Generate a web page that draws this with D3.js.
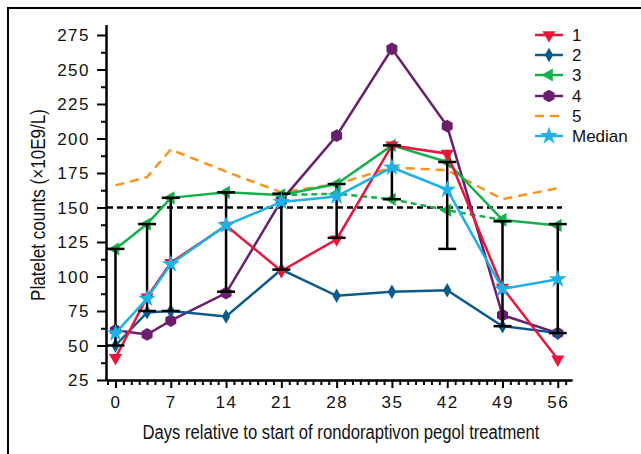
<!DOCTYPE html>
<html>
<head>
<meta charset="utf-8">
<script src="https://cdn.jsdelivr.net/npm/d3@7"></script>
<style>
  body { margin: 0; background: #fff; }
  svg { display: block; }
  .axis path, .axis line { stroke: #000; stroke-width: 2; }
  .axis text { font-family: "Liberation Sans", Arial, sans-serif; font-size: 17px; fill: #111; letter-spacing: 1.5px; }
  .title { font-family: "Liberation Sans Narrow", "Liberation Sans", sans-serif; font-size: 20px; fill: #111; }
  .legend text { font-family: "Liberation Sans", Arial, sans-serif; font-size: 17px; fill: #111; }
</style>
</head>
<body>
<div id="vis"></div>
<script>
// chart values
var days = [0, 4, 7, 14, 21, 28, 35, 42, 49, 56];
var series1 = [41, 85, 110, 137, 104, 127, 195, 189, 92, 40];
var series2 = [50, 74, 75, 71, 105, 86, 89, 90, 64, 59];
var series3 = [120, 138, 157, 161, 159, 167, 195, 183, 141, 137];
var series4 = [61, 58, 68, 88, 155, 202, 265, 209, 72, 59];
var series5 = [166, 172, 192, 176, 161, 167, 179, 177, 156, 164];
var median = [59, 84, 109, 137, 154, 158, 179, 163, 91, 98];
var series3AltDays = [21, 28, 35, 42, 49];
var series3Alt = [159, 160, 156, 148, 141];
var errLow = [50, 75, 75, 89, 105, 128, 156, 120, 64, 59];
var errHigh = [120, 138, 157, 161, 160, 167, 195, 183, 140, 138];
var refLevel = 150;
var yTicks = [25, 50, 75, 100, 125, 150, 175, 200, 225, 250, 275];
var xTicks = [0, 7, 14, 21, 28, 35, 42, 49, 56];
var legendNames = ['1', '2', '3', '4', '5', 'Median'];

var svg = d3.select('#vis')
    .append('svg')
    .attr('width', 641)
    .attr('height', 454);

// frame (only top and left edges show in the crop)
svg.append('path')
    .attr('d', 'M8,454 L8,8 L641,8')
    .attr('fill', 'none')
    .attr('stroke', '#000')
    .attr('stroke-width', 2);

var xScale = d3.scaleLinear().domain([-1.2, 57.8]).range([106, 572]);
var yScale = d3.scaleLinear().domain([25, 282.6]).range([380, 24.5]);

// axes
var xMinor = d3.range(-1, 58).filter(function(d) { return d % 7 !== 0; });
var yMinor = yTicks.slice(0, -1).map(function(d) { return d + 12.5; });

svg.append('g').attr('class', 'axis')
    .attr('transform', 'translate(0,380)')
    .call(d3.axisBottom(xScale).tickValues(xMinor).tickSize(5).tickSizeOuter(0).tickFormat(''));
var xAxisG = svg.append('g').attr('class', 'axis')
    .attr('transform', 'translate(0,380)')
    .call(d3.axisBottom(xScale).tickValues(xTicks).tickSize(8).tickSizeOuter(0).tickPadding(8));

svg.append('g').attr('class', 'axis')
    .attr('transform', 'translate(106,0)')
    .call(d3.axisLeft(yScale).tickValues(yMinor).tickSize(5).tickSizeOuter(0).tickFormat(''));
svg.append('g').attr('class', 'axis')
    .attr('transform', 'translate(106,0)')
    .call(d3.axisLeft(yScale).tickValues(yTicks).tickSize(9).tickSizeOuter(0).tickPadding(7));

svg.selectAll('.axis text').attr('dy', '0.35em');
xAxisG.selectAll('text').attr('dy', '0.71em');

svg.append('text')
    .attr('class', 'title')
    .attr('x', 341)
    .attr('y', 439)
    .attr('textLength', 397)
    .attr('lengthAdjust', 'spacingAndGlyphs')
    .style('text-anchor', 'middle')
    .text('Days relative to start of rondoraptivon pegol treatment');

svg.append('text')
    .attr('class', 'title')
    .attr('transform', 'translate(45,205)rotate(-90)')
    .attr('textLength', 192)
    .attr('lengthAdjust', 'spacingAndGlyphs')
    .style('text-anchor', 'middle')
    .text('Platelet counts (\u00d710E9/L)');

// reference line at 150
svg.append('line')
    .attr('x1', 107).attr('x2', 562)
    .attr('y1', yScale(refLevel)).attr('y2', yScale(refLevel))
    .attr('stroke', '#000')
    .attr('stroke-width', 2.5)
    .attr('stroke-dasharray', '6,4');

var hexagon = {
    draw: function(ctx, size) {
        var r = Math.sqrt(size / 2.598);
        for (var i = 0; i < 6; i++) {
            var a = Math.PI / 6 + i * Math.PI / 3;
            if (i === 0) ctx.moveTo(r * Math.cos(a), r * Math.sin(a));
            else ctx.lineTo(r * Math.cos(a), r * Math.sin(a));
        }
        ctx.closePath();
    }
};

var styles = [
    { color: '#e8173a', shape: d3.symbolTriangle, rot: 180, size: 75 },
    { color: '#0b5a8c', shape: d3.symbolDiamond, rot: 0, size: 60 },
    { color: '#15b04b', shape: d3.symbolTriangle, rot: -90, size: 75 },
    { color: '#6a1f6d', shape: hexagon, rot: 0, size: 105 },
    { color: '#f7941d', shape: null, rot: 0, size: 0, dash: '9,6' },
    { color: '#1db1e7', shape: d3.symbolStar, rot: 0, size: 100 }
];

var line = d3.line()
    .x(function(d) { return xScale(d[0]); })
    .y(function(d) { return yScale(d[1]); });

var drawSeries = function(xs, vals, st, dash) {
    var pts = xs.map(function(d, i) { return [d, vals[i]]; });
    var g = svg.append('g');
    g.append('path')
        .datum(pts)
        .attr('d', line)
        .attr('fill', 'none')
        .attr('stroke', st.color)
        .attr('stroke-width', 2.5)
        .attr('stroke-dasharray', dash || null);
    if (st.shape) {
        g.selectAll('path.pt').data(pts).enter().append('path')
            .attr('class', 'pt')
            .attr('d', d3.symbol().type(st.shape).size(st.size))
            .attr('fill', st.color)
            .attr('transform', function(d) {
                return 'translate(' + xScale(d[0]) + ',' + yScale(d[1]) + ')rotate(' + st.rot + ')';
            });
    }
};

drawSeries(days, series5, styles[4], styles[4].dash);
drawSeries(series3AltDays, series3Alt, styles[2], '6,4');
drawSeries(days, series4, styles[3]);
drawSeries(days, series2, styles[1]);
drawSeries(days, series3, styles[2]);
drawSeries(days, series1, styles[0]);

// error bars
var eb = svg.append('g').attr('stroke', '#000').attr('stroke-width', 2.5);
days.forEach(function(d, i) {
    var cx = xScale(d);
    eb.append('line').attr('x1', cx).attr('x2', cx)
        .attr('y1', yScale(errLow[i])).attr('y2', yScale(errHigh[i]));
    [errLow[i], errHigh[i]].forEach(function(v) {
        eb.append('line').attr('x1', cx - 9).attr('x2', cx + 9)
            .attr('y1', yScale(v)).attr('y2', yScale(v));
    });
});

drawSeries(days, median, styles[5]);

// legend
var legend = svg.append('g').attr('class', 'legend');
var rowY = [35, 55, 75, 96, 116, 136];
legendNames.forEach(function(name, i) {
    var st = styles[i];
    var row = legend.append('g').attr('transform', 'translate(0,' + rowY[i] + ')');
    row.append('line')
        .attr('x1', 535).attr('x2', 563)
        .attr('stroke', st.color)
        .attr('stroke-width', 2.5)
        .attr('stroke-dasharray', st.dash || null);
    if (st.shape) {
        row.append('path')
            .attr('d', d3.symbol().type(st.shape).size(st.size))
            .attr('fill', st.color)
            .attr('transform', 'translate(549,0)rotate(' + st.rot + ')');
    }
    row.append('text')
        .attr('x', 572)
        .attr('dy', '0.36em')
        .text(name);
});
</script>
</body>
</html>
